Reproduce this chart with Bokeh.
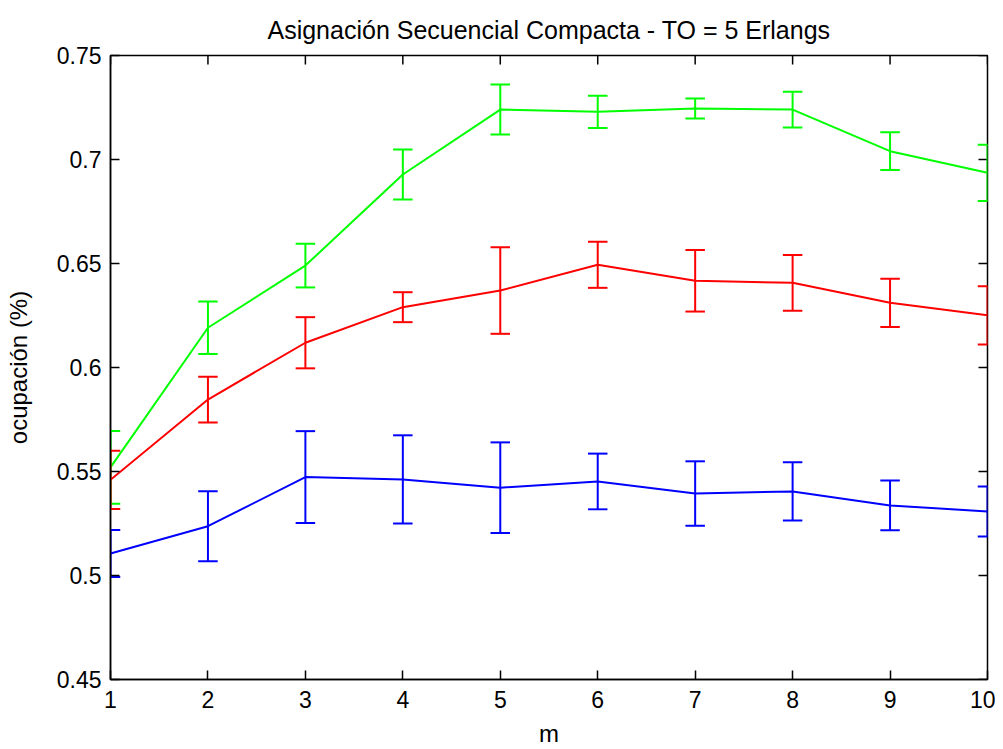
import math
from bokeh.plotting import figure
from bokeh.models import FixedTicker, Range1d
from bokeh.embed import file_html
from bokeh.resources import INLINE

# ---- data ----
m_values = [1, 2, 3, 4, 5, 6, 7, 8, 9, 10]

green_mean = [0.552, 0.6191, 0.6490, 0.6928, 0.7240, 0.7229, 0.7245, 0.7240, 0.7040, 0.6936]
green_err = [0.0175, 0.0126, 0.0105, 0.0120, 0.0120, 0.0077, 0.0048, 0.0086, 0.0091, 0.0135]

red_mean = [0.546, 0.5846, 0.6119, 0.6290, 0.6370, 0.6494, 0.6417, 0.6407, 0.6311, 0.6251]
red_err = [0.0140, 0.0110, 0.0123, 0.0072, 0.0208, 0.0111, 0.0148, 0.0134, 0.0116, 0.0140]

blue_mean = [0.5106, 0.5237, 0.5473, 0.5462, 0.5422, 0.5452, 0.5394, 0.5404, 0.5337, 0.5308]
blue_err = [0.0113, 0.0168, 0.0221, 0.0212, 0.0218, 0.0134, 0.0155, 0.0140, 0.0120, 0.0120]

x_ticks = [1, 2, 3, 4, 5, 6, 7, 8, 9, 10]
y_ticks = [0.45, 0.5, 0.55, 0.6, 0.65, 0.7, 0.75]
y_tick_labels = ["0.45", "0.5", "0.55", "0.6", "0.65", "0.7", "0.75"]

title_text = "Asignación Secuencial Compacta - TO = 5 Erlangs"
x_label = "m"
y_label = "ocupación (%)"

FONT = "Liberation Sans"
CAP = 0.1  # half width of error-bar caps in x units
TICK = 9   # tick length in px

x_lo, x_hi = 1, 10
y_lo, y_hi = 0.45, 0.75

p = figure(
    output_backend="svg", toolbar_location=None,
    frame_width=877, frame_height=624,
    min_border_left=110, min_border_top=55, min_border_right=8, min_border_bottom=64,
    x_range=Range1d(x_lo, x_hi), y_range=Range1d(y_lo, y_hi),
    title=title_text,
)
p.background_fill_color = "white"
p.border_fill_color = "white"
p.outline_line_color = "black"
p.outline_line_width = 1.5
p.xgrid.visible = False
p.ygrid.visible = False

p.title.align = "center"
p.title.text_font = FONT
p.title.text_font_size = "25px"
p.title.text_font_style = "normal"
p.title.text_color = "black"
p.title.standoff = 23

for ax in (p.xaxis[0], p.yaxis[0]):
    ax.axis_line_color = "black"
    ax.axis_line_width = 1.5
    ax.major_tick_in = TICK
    ax.major_tick_out = 0
    ax.major_tick_line_color = "black"
    ax.major_tick_line_width = 1.5
    ax.minor_tick_line_color = None
    ax.major_label_text_font = FONT
    ax.major_label_text_color = "black"
    ax.major_label_text_font_size = "23px"
    ax.axis_label_text_font = FONT
    ax.axis_label_text_font_size = "24px"
    ax.axis_label_text_font_style = "normal"
    ax.axis_label_text_color = "black"

p.xaxis.ticker = FixedTicker(ticks=x_ticks)
p.yaxis.ticker = FixedTicker(ticks=y_ticks)
p.yaxis.major_label_overrides = {t: l for t, l in zip(y_ticks, y_tick_labels)}
p.xaxis.major_label_standoff = 11
p.yaxis.major_label_standoff = 9
p.xaxis.axis_label = x_label
p.yaxis.axis_label = y_label
p.xaxis.axis_label_standoff = 9
p.yaxis.axis_label_standoff = 22

# ticks on the top and right edges of the box (pointing inward)
p.ray(x=x_ticks, y=[y_hi] * len(x_ticks), length=TICK, length_units="screen",
      angle=-math.pi / 2, line_color="black", line_width=1.5)
p.ray(x=[x_hi] * len(y_ticks), y=y_ticks, length=TICK, length_units="screen",
      angle=math.pi, line_color="black", line_width=1.5)

series = [
    (green_mean, green_err, "#00ff00"),
    (red_mean, red_err, "#ff0000"),
    (blue_mean, blue_err, "#0000ff"),
]
for mean, err, color in series:
    lo = [v - e for v, e in zip(mean, err)]
    hi = [v + e for v, e in zip(mean, err)]
    p.line(m_values, mean, line_color=color, line_width=2)
    p.segment(x0=m_values, y0=lo, x1=m_values, y1=hi, line_color=color, line_width=2)
    xl = [x - CAP for x in m_values]
    xr = [x + CAP for x in m_values]
    p.segment(x0=xl, y0=hi, x1=xr, y1=hi, line_color=color, line_width=2)
    p.segment(x0=xl, y0=lo, x1=xr, y1=lo, line_color=color, line_width=2)

open("out.html", "w").write(file_html(p, INLINE))
